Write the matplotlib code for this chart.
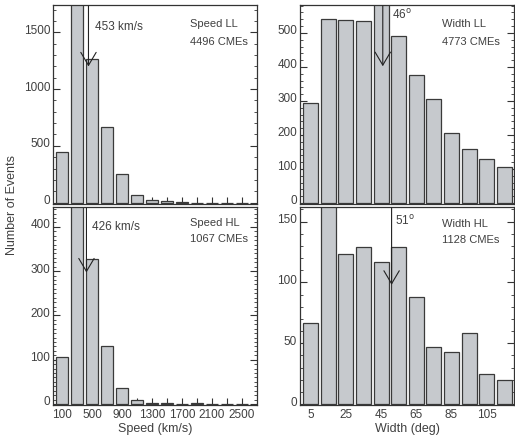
import matplotlib
matplotlib.use("Agg")
import matplotlib.pyplot as plt
import matplotlib.transforms as mtransforms
from matplotlib.ticker import MultipleLocator, FixedLocator

plt.rcParams['font.family'] = ['Liberation Sans', 'DejaVu Sans']

# ---- data ----
speed_centers = [100, 300, 500, 700, 900, 1100, 1300, 1500, 1700, 1900, 2100, 2300, 2500]
speed_ll = [450, 1800, 1270, 670, 250, 70, 25, 10, 8, 0, 0, 0, 0]
speed_hl = [107, 460, 327, 130, 35, 10, 2, 2, 0, 2, 0, 0, 0]
width_centers = [5, 15, 25, 35, 45, 55, 65, 75, 85, 95, 105, 115]
width_ll = [295, 540, 537, 535, 620, 490, 375, 307, 205, 160, 130, 107]
width_hl = [67, 190, 123, 129, 117, 129, 88, 47, 43, 58, 25, 20]

speed_ticks = [100, 500, 900, 1300, 1700, 2100, 2500]
width_ticks = [5, 25, 45, 65, 85, 105]

panel_names = ["Speed LL", "Speed HL", "Width LL", "Width HL"]
panel_counts = ["4496 CMEs", "1067 CMEs", "4773 CMEs", "1128 CMEs"]
mean_values = [453, 426, 46, 51]
arrow_tips = [1200, 297, 402, 98]
mean_labels = ["453 km/s", "426 km/s", r"46$^{\rm o}$", r"51$^{\rm o}$"]

W, H = 515, 440
fig = plt.figure(figsize=(W / 100, H / 100), dpi=100)

def rect(x0, y0, x1, y1):
    return [x0 / W, (H - y1) / H, (x1 - x0) / W, (y1 - y0) / H]

ax_sll = fig.add_axes(rect(53, 5, 257, 204))
ax_shl = fig.add_axes(rect(53, 207, 257, 405))
ax_wll = fig.add_axes(rect(300, 5, 514, 204))
ax_whl = fig.add_axes(rect(300, 207, 514, 405))

face = '#c6c9cd'
edge = '#3a3a3a'
tcol = '#404040'
fs = 8.5

def style(ax, ylim, ymajor, yminor, xlim, xmajor, xminor, show_xlabels):
    ax.set_xlim(*xlim)
    ax.set_ylim(*ylim)
    ax.yaxis.set_major_locator(MultipleLocator(ymajor))
    ax.yaxis.set_minor_locator(MultipleLocator(yminor))
    ax.xaxis.set_major_locator(FixedLocator(xmajor))
    ax.xaxis.set_minor_locator(FixedLocator(xminor))
    ax.tick_params(which='both', direction='in', left=True, right=True,
                   top=False, bottom=True, colors='#333333', labelcolor=tcol,
                   labelsize=fs)
    ax.tick_params(which='major', length=5, width=0.8)
    ax.tick_params(which='minor', length=2.5, width=0.6)
    ax.tick_params(axis='x', which='minor', length=5, width=0.8)
    ax.tick_params(axis='y', pad=2)
    ax.tick_params(axis='x', labelbottom=show_xlabels, pad=3)
    for s in ax.spines.values():
        s.set_color('#333333')
        s.set_linewidth(0.9)
    off = mtransforms.ScaledTranslation(0, 3 / 100, fig.dpi_scale_trans)
    for lab in ax.get_yticklabels():
        lab.set_transform(lab.get_transform() + off)

panels = [
    (ax_sll, speed_centers, speed_ll, 170, (-13, 1742), 500, 100, (-20, 2700), speed_ticks,
     [c for c in speed_centers if c not in speed_ticks], False),
    (ax_shl, speed_centers, speed_hl, 170, (-2.3, 445), 100, 10, (-20, 2700), speed_ticks,
     [c for c in speed_centers if c not in speed_ticks], True),
    (ax_wll, width_centers, width_ll, 8.5, (-3, 582), 100, 20, (-1, 120.5), width_ticks,
     [c for c in width_centers if c not in width_ticks], False),
    (ax_whl, width_centers, width_hl, 8.5, (-0.8, 162), 50, 10, (-1, 120.5), width_ticks,
     [c for c in width_centers if c not in width_ticks], True),
]

text_pos = [
    (0.205, 0.89, 0.67, 0.905, 0.814),
    (0.19, 0.90, 0.67, 0.92, 0.837),
    (0.43, 0.95, 0.662, 0.905, 0.814),
    (0.445, 0.93, 0.662, 0.913, 0.833),
]

for i, (ax, xs, ys, bw, ylim, ymaj, ymin, xlim, xmaj, xmin, showx) in enumerate(panels):
    ax.bar(xs, ys, width=bw, color=face, edgecolor=edge, linewidth=0.9, zorder=2)
    style(ax, ylim, ymaj, ymin, xlim, xmaj, xmin, showx)
    ax.annotate('', xy=(mean_values[i], arrow_tips[i]),
                xytext=(mean_values[i], 0.995), textcoords=('data', 'axes fraction'),
                arrowprops=dict(arrowstyle='->,head_length=1.1,head_width=0.65',
                                color='#222222', lw=0.8, shrinkA=0, shrinkB=0),
                fontsize=fs, zorder=5)
    mx, my, nx, ny1, ny2 = text_pos[i]
    ax.text(mx, my, mean_labels[i], transform=ax.transAxes, fontsize=fs,
            color=tcol, ha='left', va='center', zorder=6)
    ax.text(nx, ny1, panel_names[i], transform=ax.transAxes, fontsize=fs - 0.5,
            color=tcol, ha='left', va='center', zorder=6)
    ax.text(nx, ny2, panel_counts[i], transform=ax.transAxes, fontsize=fs - 0.5,
            color=tcol, ha='left', va='center', zorder=6)

ax_shl.set_xlabel("Speed (km/s)", fontsize=fs + 0.5, color=tcol, labelpad=1)
ax_whl.set_xlabel("Width (deg)", fontsize=fs + 0.5, color=tcol, labelpad=1)
fig.text(12 / W, 1 - 205 / H, "Number of Events", rotation=90, fontsize=fs + 0.5,
         color=tcol, ha='center', va='center')

fig.savefig("out.png", dpi=100)
